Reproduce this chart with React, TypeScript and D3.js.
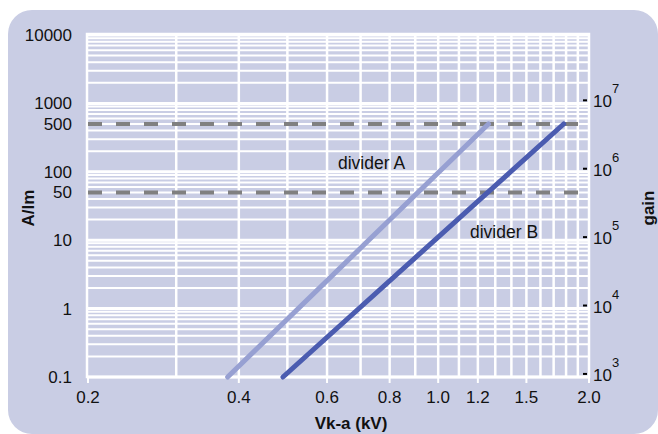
import React, { useRef, useEffect } from 'react';
import * as d3 from 'd3';

// valores
const xTickValues = [0.2, 0.4, 0.6, 0.8, 1.0, 1.2, 1.5, 2.0];
const xGridValues = [0.3, 0.4, 0.5, 0.6, 0.7, 0.8, 0.9, 1.0, 1.1, 1.2, 1.3, 1.4, 1.5, 1.6, 1.7, 1.8, 1.9];
const yTickValues = [0.1, 1, 10, 50, 100, 500, 1000, 10000];
const yTickLabels = ['0.1', '1', '10', '50', '100', '500', '1000', '10000'];
const gainExponents = [3, 4, 5, 6, 7];
const thresholds = [50, 500];

const dividerA = [
  { v: 0.38, a: 0.1 },
  { v: 1.26, a: 500 },
];
const dividerB = [
  { v: 0.49, a: 0.1 },
  { v: 1.78, a: 500 },
];

const W = 658;
const H = 434;
const FONT = '"Liberation Sans", Arial, Helvetica, sans-serif';

const App = () => {
  const ref = useRef<SVGSVGElement>(null);

  useEffect(() => {
    const svg = d3.select(ref.current);
    svg.selectAll('*').remove();

    const left = 88, right = 589, top = 35, bottom = 377;

    const x = d3.scaleLog().domain([0.2, 2]).range([left, right]);
    const y = d3.scaleLog().domain([0.1, 10000]).range([bottom, top]);
    const yGain = d3.scaleLog().domain([10 ** 2.955, 10 ** 7.955]).range([bottom, top]);

    // fondo redondeado
    svg.append('rect')
      .attr('x', 8).attr('y', 10)
      .attr('width', W - 8).attr('height', H - 10)
      .attr('rx', 24)
      .attr('fill', '#c9cde4');

    // rejilla horizontal
    const g = svg.append('g');
    g.selectAll('line.hgrid')
      .data(y.ticks())
      .join('line')
      .attr('x1', left).attr('x2', right)
      .attr('y1', d => y(d)).attr('y2', d => y(d))
      .attr('stroke', '#ffffff')
      .attr('stroke-width', d => (Math.abs(Math.log10(d) - Math.round(Math.log10(d))) < 1e-6 ? 3 : 2));

    // rejilla vertical
    g.selectAll('line.vgrid')
      .data(xGridValues)
      .join('line')
      .attr('x1', d => x(d)).attr('x2', d => x(d))
      .attr('y1', top).attr('y2', bottom)
      .attr('stroke', '#ffffff')
      .attr('stroke-width', 2.5);

    // marco del área
    g.append('rect')
      .attr('x', left - 1).attr('y', top - 1)
      .attr('width', right - left + 1).attr('height', bottom - top + 1)
      .attr('fill', 'none')
      .attr('stroke', '#ffffff')
      .attr('stroke-width', 2.5);

    // marcas eje x
    g.selectAll('line.xtick')
      .data(xTickValues)
      .join('line')
      .attr('x1', d => x(d)).attr('x2', d => x(d))
      .attr('y1', bottom).attr('y2', bottom + 6)
      .attr('stroke', '#ffffff')
      .attr('stroke-width', 2);

    // líneas discontinuas
    g.selectAll('line.thr')
      .data(thresholds)
      .join('line')
      .attr('x1', left).attr('x2', right)
      .attr('y1', d => y(d)).attr('y2', d => y(d))
      .attr('stroke', '#808080')
      .attr('stroke-width', 4)
      .attr('stroke-dasharray', '14,14');

    const line = d3.line<{ v: number; a: number }>()
      .x(d => x(d.v))
      .y(d => y(d.a));

    g.append('path')
      .datum(dividerA)
      .attr('d', line)
      .attr('fill', 'none')
      .attr('stroke', '#97a0d2')
      .attr('stroke-width', 5)
      .attr('stroke-linecap', 'round');

    g.append('path')
      .datum(dividerB)
      .attr('d', line)
      .attr('fill', 'none')
      .attr('stroke', '#4b5cb0')
      .attr('stroke-width', 5)
      .attr('stroke-linecap', 'round');

    // etiquetas eje x
    svg.append('g')
      .selectAll('text')
      .data(xTickValues)
      .join('text')
      .attr('x', d => x(d))
      .attr('y', 403)
      .attr('text-anchor', 'middle')
      .attr('font-family', FONT)
      .attr('font-size', 17)
      .attr('fill', '#111')
      .text(d => d3.format('.1f')(d));

    // etiquetas eje y
    svg.append('g')
      .selectAll('text')
      .data(yTickValues)
      .join('text')
      .attr('x', 72)
      .attr('y', d => y(d))
      .attr('dy', '0.35em')
      .attr('text-anchor', 'end')
      .attr('font-family', FONT)
      .attr('font-size', 17)
      .attr('fill', '#111')
      .text((d, i) => yTickLabels[i]);

    // eje derecho de ganancia
    const gg = svg.append('g');
    gg.selectAll('line')
      .data(gainExponents)
      .join('line')
      .attr('x1', 583).attr('x2', 587)
      .attr('y1', d => yGain(10 ** d)).attr('y2', d => yGain(10 ** d))
      .attr('stroke', '#000')
      .attr('stroke-width', 2);

    const gt = gg.selectAll('text')
      .data(gainExponents)
      .join('text')
      .attr('x', 593)
      .attr('y', d => yGain(10 ** d) + 7)
      .attr('font-family', FONT)
      .attr('font-size', 17)
      .attr('fill', '#111');
    gt.append('tspan').text('10');
    gt.append('tspan')
      .attr('dy', -14)
      .attr('font-size', 13)
      .text(d => String(d));

    // títulos
    const title = (tx: number, ty: number, txt: string, rot: number) =>
      svg.append('text')
        .attr('transform', `translate(${tx},${ty}) rotate(${rot})`)
        .attr('text-anchor', 'middle')
        .attr('font-family', FONT)
        .attr('font-size', 17)
        .attr('font-weight', 'bold')
        .attr('fill', '#111')
        .text(txt);

    title(351, 429, 'Vk-a (kV)', 0);
    title(34, 208, 'A/lm', -90);
    title(654, 208, 'gain', -90);

    // etiquetas de las series
    svg.append('text')
      .attr('x', 338).attr('y', 169)
      .attr('font-family', FONT)
      .attr('font-size', 17.5)
      .attr('fill', '#111')
      .text('divider A');

    svg.append('text')
      .attr('x', 470).attr('y', 238)
      .attr('font-family', FONT)
      .attr('font-size', 17.5)
      .attr('fill', '#111')
      .text('divider B');
  }, []);

  return (
    <svg
      ref={ref}
      width={W}
      height={H}
      style={{ position: 'absolute', left: 0, top: 0, display: 'block' }}
    />
  );
};

export default App;
